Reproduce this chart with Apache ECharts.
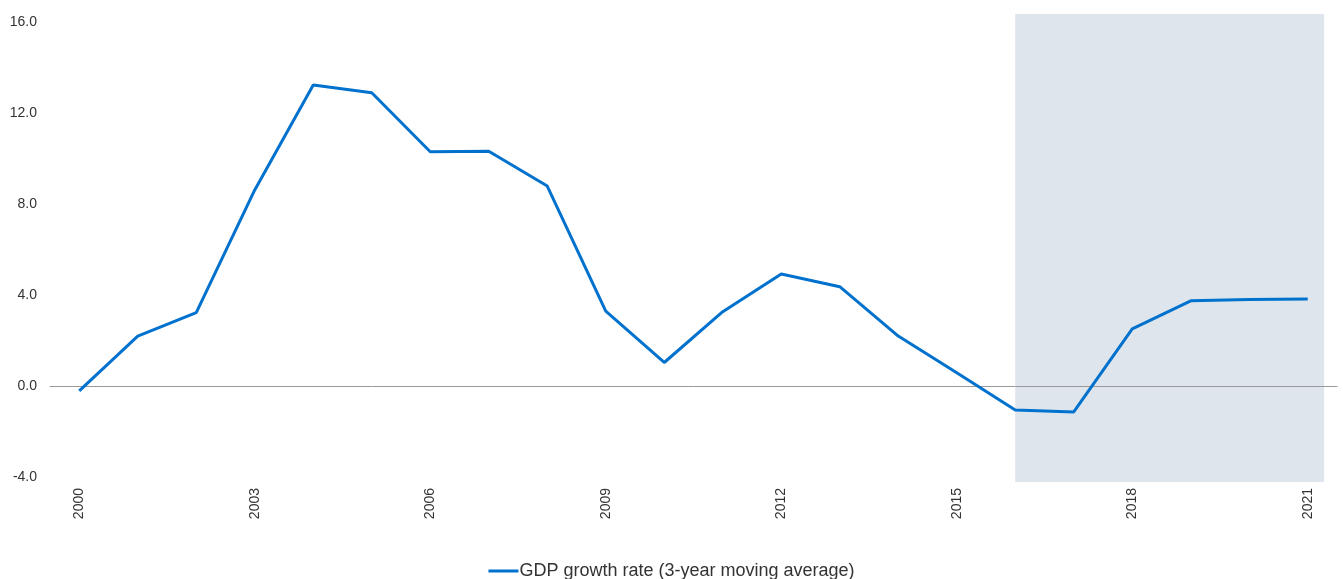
<!DOCTYPE html>
<html>
<head>
<meta charset="utf-8">
<script src="https://cdn.jsdelivr.net/npm/echarts@6/dist/echarts.min.js"></script>
<style>
html,body{margin:0;padding:0;background:#fff;}
#chart{width:1343px;height:579px;}
</style>
</head>
<body>
<div id="chart"></div>
<script>
const years = [2000,2001,2002,2003,2004,2005,2006,2007,2008,2009,2010,2011,2012,2013,2014,2015,2016,2017,2018,2019,2020,2021];
const gdpGrowth = [-0.2,2.21,3.24,8.63,13.24,12.9,10.31,10.33,8.8,3.31,1.05,3.28,4.94,4.38,2.21,0.6,-1.04,-1.12,2.53,3.76,3.82,3.84];
const xTickLabels = [2000,2003,2006,2009,2012,2015,2018,2021];
const yTickLabels = [-4,0,4,8,12,16];
const shadeStart = 2016;
const shadeEnd = 2021.28;
const seriesName = 'GDP growth rate (3-year moving average)';

const chart = echarts.init(document.getElementById('chart'));
const fontFamily = '"Liberation Sans", Arial, Helvetica, sans-serif';
chart.setOption({
  animation: false,
  textStyle: { fontFamily: fontFamily },
  grid: { left: 50, right: 6, top: 14, bottom: 97 },
  legend: {
    data: [seriesName],
    left: 'center',
    top: 557,
    icon: 'rect',
    itemWidth: 30,
    itemHeight: 3,
    textStyle: { fontSize: 18, color: '#333', fontFamily: fontFamily, padding: [0,0,0,-4] }
  },
  xAxis: [{
    type: 'value',
    min: 1999.5,
    max: 2021.5,
    axisLine: { show: false, onZero: false },
    axisTick: { show: false },
    splitLine: { show: false },
    axisLabel: {
      customValues: xTickLabels,
      rotate: 90,
      margin: 6,
      fontSize: 14,
      color: '#333',
      formatter: v => String(v)
    }
  }, {
    type: 'value',
    min: 1999.5,
    max: 2021.5,
    position: 'bottom',
    z: 3,
    axisLine: { show: true, onZero: true, lineStyle: { color: '#999', width: 1 } },
    axisTick: { show: false },
    axisLabel: { show: false },
    splitLine: { show: false }
  }],
  yAxis: {
    type: 'value',
    min: -4.2,
    max: 16.36,
    axisLine: { show: false },
    axisTick: { show: false },
    splitLine: { show: false },
    axisLabel: {
      customValues: yTickLabels,
      margin: 13,
      fontSize: 14,
      color: '#333',
      formatter: v => v.toFixed(1)
    }
  },
  series: [{
    name: 'shade',
    type: 'line',
    xAxisIndex: 0,
    data: [],
    z: 1,
    markArea: {
      silent: true,
      itemStyle: { color: '#dfe5ec' },
      data: [[{ xAxis: shadeStart }, { xAxis: shadeEnd }]]
    }
  }, {
    name: seriesName,
    type: 'line',
    xAxisIndex: 0,
    data: years.map((y, i) => [y, gdpGrowth[i]]),
    symbol: 'none',
    lineStyle: { color: '#0072ce', width: 3 },
    itemStyle: { color: '#0072ce' },
    z: 5
  }]
});
</script>
</body>
</html>
